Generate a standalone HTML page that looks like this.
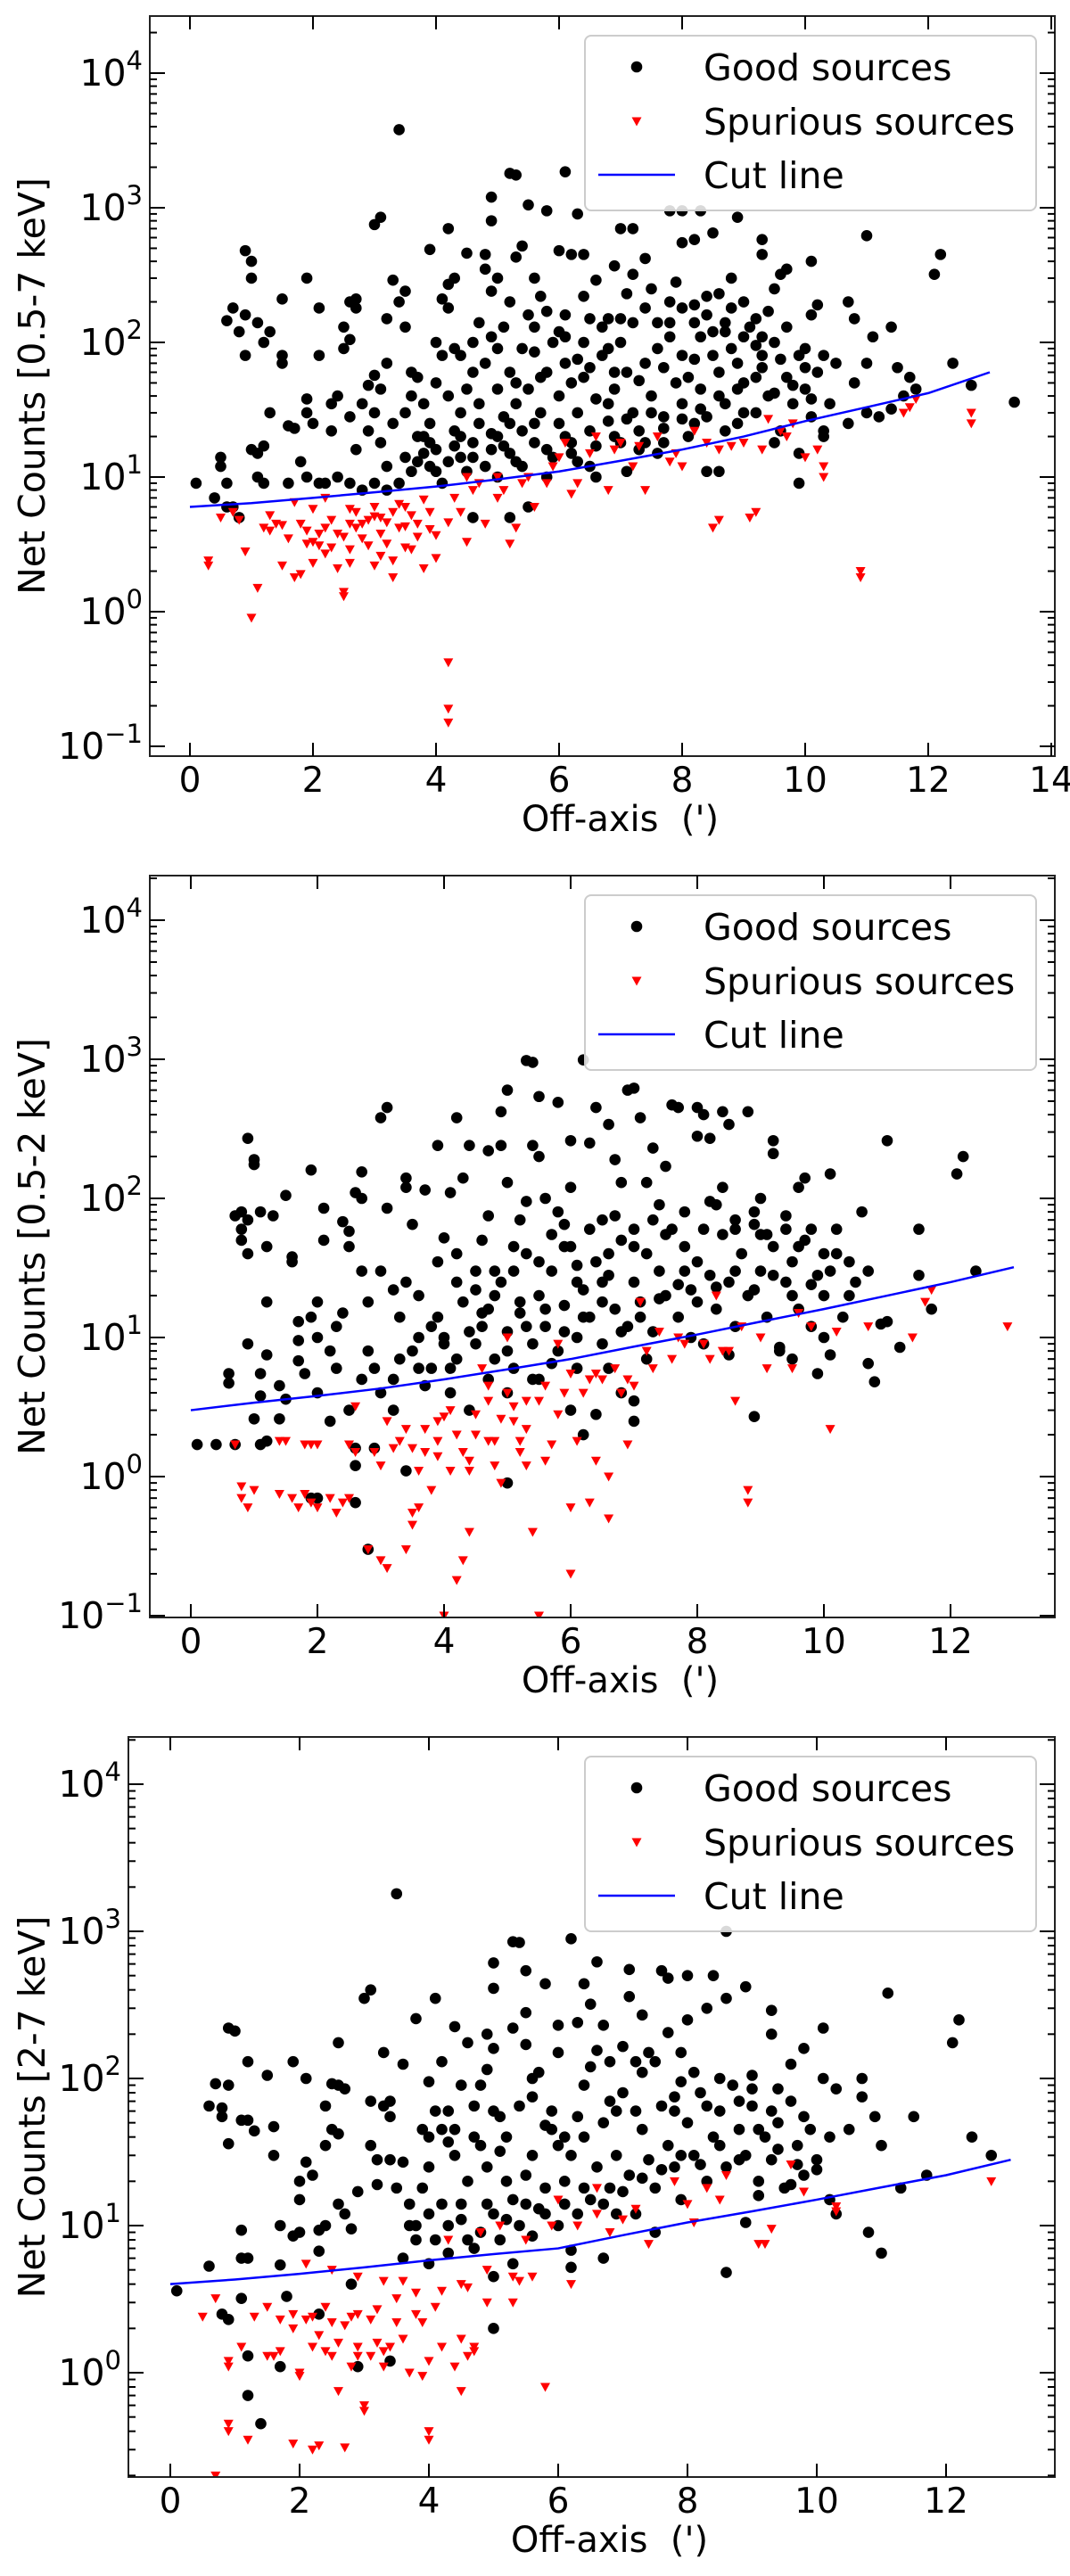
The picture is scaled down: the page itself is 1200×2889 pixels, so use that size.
<!DOCTYPE html>
<html><head><meta charset="utf-8"><style>
html,body{margin:0;padding:0;background:#fff;}
svg{display:block;font-family:"DejaVu Sans","Liberation Sans",sans-serif;}
</style></head><body>
<svg id="fig" width="1200" height="2889" viewBox="0 0 1200 2889" xmlns="http://www.w3.org/2000/svg"></svg>
<script>
// ---------- data ----------
const panelLabels = ["Net Counts [0.5-7 keV]", "Net Counts [0.5-2 keV]", "Net Counts [2-7 keV]"];
const yDecades = [-1,0,1,2,3,4];
const legendLabels = ["Good sources","Spurious sources","Cut line"];

const cutX = [0,1,2,3,4,5,6,7,8,9,10,11,12,13];
const cut1 = [6,6.4,7,7.7,8.5,9.6,11,13.2,16,20,26,33,42,60];
const cut2 = [3,3.4,3.8,4.3,5,5.9,7,8.6,10.5,13,16,20,25,32];
const cut3 = [4,4.3,4.7,5.2,5.8,6.4,7,8.6,10.5,12.5,15,18.2,22,28];

const good1 = [[3.4,3800],[5.2,1800],[5.3,1750],[6.1,1850],[4.9,1200],[5.5,1050],[5.8,950],[6.3,900],[3.0,750],[3.1,850],[4.2,700],[4.9,800],[7.0,700],[7.2,700],[7.8,950],[8.0,950],[8.3,950],[8.9,850],[8.5,650],[8.2,580],[8.0,550],[9.3,580],[9.3,450],[11.0,620],[12.1,320],[12.2,450],[12.4,70],[12.7,48],[13.4,36],[10.1,400],[9.6,320],[9.7,350],[11.1,110],
[0.1,9],[0.4,7],[0.5,12],[0.5,14],[0.6,9],[0.6,6],[0.7,6],[0.8,5],[0.6,145],[0.7,180],[0.8,120],[0.9,80],[0.9,160],[0.9,480],[1.0,400],[1.0,300],[1.1,140],[1.2,100],[1.3,120],[1.5,210],[1.5,80],[1.5,70],[1.0,16],[1.1,15],[1.1,10],[1.2,9],[1.2,17],[1.3,30],[1.6,9],[1.6,24],[1.7,23],[1.8,13],[1.9,30],[1.9,38],[2.0,25],[1.9,300],[2.1,180],[2.1,80],[2.3,22],[2.3,35],[2.4,40],[2.5,130],[2.5,90],[2.6,105],[2.6,200],[2.7,210],[2.7,180],[2.6,28],[2.7,16],[2.8,35],[2.9,22],[2.9,48],[3.0,57],[3.1,18],[3.1,45],[3.2,150],[3.2,70],[3.3,290],[3.4,200],[3.5,130],[3.5,240],[3.6,40],[3.7,20],[3.8,15],[3.9,25],[3.9,490],[4.0,100],[4.1,210],[4.2,180],[4.2,270],[4.3,90],[4.4,80],[4.5,460],[4.6,60],[4.7,140],[4.8,450],[4.8,350],[4.9,240],[5.0,90],[5.1,130],[5.2,200],[5.3,430],[5.4,520],[5.5,160],[5.6,130],[5.7,220],[5.8,170],[6.0,480],[6.1,110],[6.2,450],[6.4,450],[6.5,150],[6.6,290],[6.8,90],[6.9,370],[7.0,150],[7.2,320],[7.4,420],[7.5,250],[7.6,140],[7.8,200],[8.0,180],[8.2,140],[8.4,220],[8.6,230],[8.7,120],[9.0,200],[9.2,150],[9.3,80],[9.5,250],[9.7,130],[10.0,90],[10.1,160],[10.2,190],[10.3,80],[10.7,200],[10.8,150],[11.0,70],[11.4,130],[11.5,65],[11.7,55],[11.8,45],
[3.2,12],[3.4,9],[3.5,14],[3.6,11],[3.8,20],[3.9,12],[4.0,16],[4.1,9],[4.2,13],[4.3,22],[4.4,14],[4.4,30],[4.5,11],[4.6,18],[4.7,25],[4.8,12],[4.9,16],[5.0,20],[5.0,10],[5.1,28],[5.2,15],[5.3,35],[5.4,12],[5.4,22],[5.5,45],[5.6,18],[5.7,30],[5.8,60],[5.9,14],[6.0,25],[6.0,40],[6.1,70],[6.2,18],[6.3,30],[6.4,55],[6.5,22],[6.5,12],[6.6,38],[6.7,80],[6.8,26],[6.9,45],[7.0,18],[7.0,100],[7.1,60],[7.2,30],[7.3,22],[7.4,70],[7.5,40],[7.6,15],[7.7,28],[7.8,110],[7.9,50],[8.0,35],[8.1,20],[8.2,75],[8.3,45],[8.4,28],[8.5,120],[8.6,60],[8.7,35],[8.8,90],[8.9,25],[9.0,50],[9.1,130],[9.2,30],[9.3,65],[9.4,40],[9.5,100],[9.6,22],[9.7,55],[9.8,35],[9.9,80],[10.0,45],[10.1,28],[10.2,60],[10.3,20],[10.4,35],[10.5,70],[10.7,25],[10.8,50],[11.0,30],[11.2,28],[11.4,32],[11.6,40],[4.5,45],[4.8,70],[5.2,60],[5.6,85],[6.0,120],[6.4,100],[6.8,150],[7.2,140],[7.6,90],[8.0,80],[8.4,160],[8.8,180],[9.2,95],[3.0,30],[3.3,25],[3.6,60],[3.8,35],[4.0,50],[4.2,40],[2.2,9],[2.4,10],[2.6,9],[2.8,8],[3.0,9],[3.2,8],[1.9,10],[2.1,9],[5.5,6],[5.2,5],[4.6,5],[8.6,11],[8.4,11],[9.9,9],[9.9,15],[7.1,11],[6.6,10],[5.8,10],[6.2,15],[7.3,16],[7.7,18],[8.2,25],[9.5,18],[10.3,22],[6.3,75],[5.9,100],[7.9,280],[8.8,300],[4.3,300],[5.0,300],
[3.7,13],[4.0,11],[4.3,17],[4.6,14],[4.9,21],[5.1,17],[5.3,13],[5.6,25],[5.8,16],[6.1,20],[6.3,13],[6.6,17],[6.9,20],[7.1,27],[7.4,18],[7.7,23],[8.0,27],[8.3,32],[8.6,40],[8.9,45],[9.2,55],[9.5,42],[9.8,48],[10.1,38],[4.7,35],[5.0,45],[5.3,50],[5.7,55],[6.2,50],[6.5,65],[6.9,60],[7.3,52],[7.7,65],[8.1,55],[8.5,80],[8.9,70],[9.3,110],[9.6,75],[10.0,65],[4.9,110],[5.4,90],[6.1,160],[6.7,130],[7.4,180],[8.2,190],[8.7,140],[9.0,110],[9.4,170],[5.6,300],[6.4,220],[7.1,230],[7.8,140],[8.3,110],[4.6,100],[4.1,80],[3.7,55],[3.5,30],[3.9,18],[4.4,20],[5.2,25],[6.8,35],[7.5,30],[8.7,22],[9.0,30]];
const spur1 = [[0.3,2.4],[0.3,2.2],[0.5,5],[0.7,5.5],[0.8,4.8],[0.9,2.8],[1.0,0.9],[1.1,1.5],[1.2,4.2],[1.3,5.2],[1.4,4.5],[1.5,2.2],[1.6,3.5],[1.7,1.8],[1.8,4.5],[1.8,1.9],[1.9,3.2],[2.0,2.3],[2.0,5.8],[2.1,3.8],[2.2,4.2],[2.3,3],[2.4,2.1],[2.5,1.3],[2.5,1.4],[2.6,4.5],[2.6,2.3],[2.7,5.5],[2.8,3.5],[2.9,4.8],[3.0,2.2],[3.1,5],[3.2,3.2],[3.3,1.8],[3.3,2.4],[3.4,4.2],[3.5,3],[3.6,5.2],[3.7,4.5],[3.8,2.1],[3.9,5.5],[4.0,2.5],[4.2,0.42],[4.2,0.19],[4.2,0.15],[4.2,4.6],[4.3,7],[4.5,3.3],[4.6,8],[4.8,4.5],[5.0,7],[5.2,3.2],[5.3,4.2],[5.4,9],[5.6,6],[5.8,9],[6.0,14],[6.1,18],[6.2,7.5],[6.6,20],[6.8,8],[7.0,18],[7.4,8],[7.6,20],[8.0,12],[8.2,22],[8.5,4.2],[8.6,4.8],[8.6,16],[9.0,18],[9.1,5],[9.2,5.5],[9.3,16],[9.6,22],[10.0,14],[10.3,10],[10.3,12],[10.9,2],[10.9,1.8],[11.7,33],[11.8,38],[12.7,30],[12.7,25],[1.7,6.5],[2.2,7],[3.0,6],[3.5,6],[4.5,10],[5.0,10],[6.5,15],[7.2,12],[7.8,13],[8.4,18],[9.4,27],[9.8,25],[1.3,4],[2.8,4.5],[3.2,4.6],[2.0,3.3],[2.4,3.8],[1.5,4.4],
[1.9,4],[2.1,3.1],[2.3,4.8],[2.5,3.6],[2.7,4.2],[2.9,3.1],[3.1,3.8],[3.3,5.5],[3.5,4.3],[3.7,3.6],[3.9,4.1],[2.6,5.8],[3.0,5.1],[3.4,6.3],[3.8,6.8],[2.2,2.7],[2.6,2.9],[3.1,2.6],[3.6,2.9],[4.0,3.7],[4.4,5.5],[4.7,9],[5.1,8],[5.5,10],[5.9,12],[6.3,9],[6.9,16],[7.3,17],[7.9,15],[8.8,17],[9.7,20],[10.2,16],[11.6,30]];

const good2 = [[0.1,1.7],[0.4,1.7],[0.7,1.7],[1.1,1.7],[1.2,1.8],[0.6,5.5],[0.6,4.7],[0.7,75],[0.8,80],[0.8,60],[0.8,50],[0.9,40],[0.9,70],[0.9,270],[1.0,190],[1.0,175],[0.9,9],[1.0,2.6],[1.1,3.8],[1.1,80],[1.2,45],[1.2,7.5],[1.1,5.5],[1.3,75],[1.2,18],[1.4,4.5],[1.4,2.6],[1.5,105],[1.6,38],[1.6,35],[1.5,3.6],[1.7,6.8],[1.7,9.5],[1.7,13],[1.8,5.5],[1.9,14],[1.9,160],[2.0,18],[2.0,10],[2.1,85],[2.1,50],[2.2,8],[2.3,12],[2.3,6],[2.4,15],[2.4,68],[2.5,45],[2.5,58],[2.6,110],[2.7,30],[2.7,155],[2.7,100],[2.8,18],[2.8,8],[2.9,1.6],[2.9,6],[3.0,380],[3.0,30],[3.1,450],[3.1,85],[3.2,22],[3.2,5],[3.3,14],[3.4,140],[3.4,120],[3.5,65],[3.6,20],[3.6,6],[3.7,115],[3.8,12],[3.9,240],[4.0,52],[4.0,9],[4.1,110],[4.2,380],[4.2,40],[4.3,140],[4.4,240],[4.5,30],[4.6,15],[4.7,220],[4.7,75],[4.8,20],[4.9,240],[4.9,420],[5.0,600],[5.0,130],[5.1,30],[5.2,18],[5.3,95],[5.3,980],[5.4,950],[5.4,240],[5.5,200],[5.5,540],[5.6,100],[5.7,55],[5.8,490],[5.9,45],[6.0,120],[6.0,260],[6.1,25],[6.2,990],[6.3,250],[6.4,450],[6.5,70],[6.5,25],[6.6,340],[6.7,190],[6.8,130],[6.9,600],[7.0,620],[7.0,60],[7.1,380],[7.2,130],[7.3,230],[7.5,170],[7.6,470],[7.7,450],[7.8,80],[7.8,30],[8.0,450],[8.0,280],[8.1,400],[8.2,270],[8.3,90],[8.4,420],[8.5,340],[8.6,60],[8.8,420],[8.9,80],[9.0,55],[9.2,260],[9.2,210],[9.4,75],[9.6,120],[9.7,140],[9.8,60],[9.9,5.5],[10.0,10],[10.1,150],[10.2,60],[10.4,20],[10.6,80],[10.7,6.5],[10.8,4.8],[11.0,260],[10.9,12.5],[11.2,8.5],[11.5,60],[11.5,28],[11.7,16],[12.1,150],[12.2,200],[12.4,30],[8.9,2.7],[7.0,2.5],[6.2,2],[5.0,0.9],[3.4,1.1],[2.6,1.2],[2.8,0.3],[2.0,0.7],[2.6,0.65],[2.6,1.6],[1.9,0.7],
[3.5,8],[3.8,6],[4.0,10],[4.2,7],[4.3,18],[4.5,9],[4.6,12],[4.8,7],[4.9,25],[5.0,11],[5.1,6],[5.2,15],[5.3,40],[5.4,9],[5.5,20],[5.6,12],[5.7,30],[5.8,8],[5.9,17],[6.0,45],[6.1,10],[6.2,22],[6.3,14],[6.4,35],[6.5,9],[6.6,28],[6.7,16],[6.8,50],[6.9,12],[7.0,25],[7.1,18],[7.2,40],[7.3,11],[7.4,30],[7.5,20],[7.6,60],[7.7,14],[7.8,45],[7.9,22],[8.0,35],[8.1,9],[8.2,28],[8.3,16],[8.4,55],[8.5,25],[8.6,12],[8.7,40],[8.8,20],[8.9,65],[9.0,30],[9.1,14],[9.2,45],[9.3,8],[9.4,25],[9.5,35],[9.6,16],[9.7,50],[9.8,12],[9.9,28],[10.0,20],[10.2,40],[10.3,14],[10.5,25],[10.7,30],[11.0,13],[4.1,4],[4.4,3],[4.7,5],[5.0,4],[5.5,5],[6.0,3],[6.4,2.8],[6.8,4],[7.0,3.5],[3.2,3],[3.0,4],[2.2,2.5],[2.5,3],[6.3,60],[5.8,80],[7.4,90],[8.2,95],[9.0,100],[9.3,8.5],[9.5,7],[10.1,7.5],[8.5,7.5],[7.9,10],[6.6,6],[5.7,6.5],
[3.3,7],[3.6,10],[3.9,14],[4.1,6],[4.4,11],[4.7,16],[5.0,8],[5.3,12],[5.6,16],[5.9,11],[6.2,14],[6.5,18],[6.8,11],[7.1,14],[7.4,19],[7.7,24],[8.0,18],[8.3,23],[8.6,30],[8.9,22],[9.2,28],[9.5,20],[9.8,24],[10.1,30],[10.4,35],[4.5,22],[4.8,30],[5.1,45],[5.5,35],[6.1,33],[6.6,40],[7.0,45],[7.5,55],[8.1,60],[8.6,70],[9.1,55],[9.6,45],[10.0,40],[4.6,50],[5.2,70],[5.9,65],[6.7,75],[7.3,70],[8.4,120],[9.4,60],[3.9,35],[3.4,25],[4.2,25],[5.4,5],[6.1,6],[7.2,7],[2.7,5],[2.0,4],[3.7,4.5]];
const spur2 = [[0.7,1.7],[0.8,0.85],[0.8,0.7],[0.9,0.6],[1.0,0.8],[1.4,0.75],[1.4,1.8],[1.5,1.8],[1.6,0.7],[1.7,0.6],[1.8,0.75],[1.8,1.7],[1.9,0.65],[1.9,1.7],[2.0,1.7],[2.0,0.6],[2.2,0.7],[2.3,0.55],[2.4,0.65],[2.5,1.7],[2.5,0.7],[2.6,1.5],[2.6,3.2],[2.8,0.3],[3.0,0.25],[3.0,1.2],[3.1,0.22],[3.1,2.5],[3.3,1.8],[3.4,0.3],[3.5,0.55],[3.5,0.45],[3.5,1.6],[3.6,0.6],[3.7,2.2],[3.8,0.8],[3.9,1.4],[4.0,0.1],[4.0,2.7],[4.1,1.1],[4.2,0.18],[4.3,0.25],[4.4,0.4],[4.4,1.3],[4.5,2],[4.6,6],[4.7,3.5],[4.8,1.8],[4.9,0.9],[5.0,10],[5.0,4],[5.1,2.5],[5.2,1.8],[5.3,1.2],[5.4,0.4],[5.5,3.5],[5.5,0.1],[5.6,1.3],[5.8,9],[5.9,4],[6.0,0.6],[6.0,0.2],[6.1,1.8],[6.3,0.65],[6.5,5],[6.6,0.5],[6.6,1],[6.8,4],[6.9,1.7],[7.1,18],[7.3,6],[7.4,11],[7.6,7],[7.8,9],[8.2,7],[8.3,20],[8.4,8],[8.6,3.5],[8.7,12],[8.8,0.8],[8.8,0.65],[9.1,6],[9.5,6],[9.6,15],[10.1,2.2],[10.2,11],[10.7,12],[11.4,10],[11.6,18],[11.7,22],[12.9,12],[3.2,1.6],[3.9,1.8],[4.7,1.8],[5.3,3.5],[6.3,5],[7.0,4.5],[2.9,1.5],[3.6,1.1],[4.3,1.5],[4.1,3],
[3.4,2.2],[3.7,1.5],[3.9,2.5],[4.2,2],[4.5,2.8],[4.7,4.5],[4.9,2.6],[5.1,3.2],[5.3,2.2],[5.6,4.5],[5.8,2.8],[6.0,5.5],[6.2,4],[6.4,5.5],[6.7,6],[6.9,5],[7.2,8],[7.7,10],[8.1,9],[8.5,8],[9.0,10],[9.8,12],[4.4,1.1],[4.8,1.2],[5.2,1.5],[5.7,1.7],[6.4,1.3]];

const good3 = [[0.1,3.6],[0.6,5.3],[0.6,65],[0.7,92],[0.8,63],[0.8,55],[0.9,220],[1.0,210],[0.9,90],[0.9,36],[0.8,2.5],[0.9,2.3],[1.1,6],[1.1,52],[1.1,9.3],[1.2,130],[1.2,52],[1.3,44],[1.2,6],[1.1,3.2],[1.2,1.3],[1.2,0.7],[1.4,0.45],[1.5,105],[1.6,30],[1.6,47],[1.7,10],[1.7,5.4],[1.8,3.3],[1.7,1.1],[1.9,130],[1.9,8.5],[2.0,20],[2.0,15],[2.0,9],[2.1,100],[2.1,27],[2.2,22],[2.3,6.7],[2.3,9.3],[2.4,10],[2.4,35],[2.4,65],[2.5,92],[2.5,45],[2.6,90],[2.6,175],[2.6,42],[2.7,85],[2.6,14],[2.7,12],[2.8,9.5],[2.8,4],[2.9,17],[3.0,350],[3.1,400],[3.1,70],[3.1,35],[3.2,28],[3.2,19],[3.3,150],[3.3,65],[3.4,70],[3.4,55],[3.5,18],[3.5,1800],[3.6,125],[3.6,27],[3.7,10],[3.8,255],[3.8,8],[3.9,45],[4.0,95],[4.0,25],[4.1,60],[4.1,350],[4.2,130],[4.2,45],[4.3,37],[4.4,30],[4.4,225],[4.5,90],[4.5,14],[4.6,175],[4.7,65],[4.8,35],[4.9,200],[4.9,115],[5.0,160],[5.0,610],[5.0,410],[5.1,32],[5.2,20],[5.3,220],[5.3,850],[5.4,840],[5.5,540],[5.5,280],[5.5,170],[5.6,100],[5.8,440],[5.9,60],[6.0,230],[6.0,150],[6.1,40],[6.2,890],[6.3,240],[6.4,440],[6.5,320],[6.6,620],[6.6,155],[6.7,230],[6.8,130],[6.9,60],[7.0,165],[7.1,360],[7.1,550],[7.2,130],[7.3,270],[7.4,150],[7.6,540],[7.7,480],[7.7,205],[7.8,60],[7.9,150],[8.0,500],[8.0,250],[8.1,110],[8.3,300],[8.4,500],[8.6,1000],[8.6,350],[8.9,420],[9.0,105],[9.3,290],[9.3,200],[9.6,125],[9.8,160],[10.1,220],[10.1,100],[10.3,85],[10.7,100],[10.7,75],[10.9,55],[11.1,380],[11.0,35],[11.5,55],[11.7,22],[12.1,175],[12.2,250],[12.4,40],[12.7,30],[10.8,9],[11.0,6.5],[11.3,18],[10.3,12],[8.6,4.8],[6.2,5.2],[6.2,6.8],[6.7,6],[5.0,2],[5.0,4.5],[3.4,1.2],[2.9,1.1],[2.3,2.5],
[3.6,6],[3.8,10],[4.0,5.5],[4.1,8],[4.2,14],[4.3,6.5],[4.5,11],[4.6,20],[4.7,7],[4.8,9],[4.9,25],[5.0,12],[5.1,8],[5.2,40],[5.3,15],[5.4,10],[5.5,22],[5.6,30],[5.7,13],[5.8,18],[5.9,45],[6.0,10],[6.1,20],[6.2,30],[6.3,12],[6.4,40],[6.5,15],[6.6,25],[6.7,50],[6.8,18],[6.9,30],[7.0,80],[7.1,22],[7.2,12],[7.3,45],[7.4,28],[7.5,18],[7.6,65],[7.7,35],[7.8,25],[7.9,15],[8.0,50],[8.1,30],[8.2,80],[8.3,20],[8.4,40],[8.5,60],[8.6,25],[8.7,90],[8.8,45],[8.9,30],[9.0,65],[9.1,20],[9.2,40],[9.3,28],[9.4,50],[9.5,18],[9.6,70],[9.7,35],[9.8,22],[9.9,45],[10.0,28],[10.2,40],[10.5,45],[4.3,60],[5.0,60],[5.6,75],[6.4,90],[7.3,110],[6.0,35],[7.9,95],[9.4,85],[4.0,40],[3.4,28],[3.9,18],[5.3,5.5],[5.6,8.5],[6.9,12],[8.9,10.5],[9.1,16],[9.6,19],[10.2,15],[7.5,9],
[3.7,14],[4.0,12],[4.3,10],[4.6,8],[4.9,14],[5.2,11],[5.5,14],[5.8,12],[6.1,14],[6.4,18],[6.7,14],[7.0,17],[7.3,21],[7.6,24],[7.9,30],[8.2,26],[8.5,35],[8.8,28],[9.1,45],[9.4,33],[9.7,26],[10.0,24],[4.4,45],[4.7,40],[5.1,55],[5.4,65],[5.8,48],[6.3,55],[6.8,70],[7.2,60],[7.8,75],[8.3,65],[8.8,70],[9.3,60],[9.8,55],[4.8,90],[5.7,110],[6.5,120],[7.5,130],[8.5,100],[9.0,85]];
const spur3 = [[0.5,2.4],[0.7,3.2],[0.7,0.2],[0.9,1.2],[0.9,1.1],[0.9,0.45],[0.9,0.4],[1.1,1.5],[1.2,0.35],[1.3,2.4],[1.5,2.8],[1.5,1.3],[1.6,1.3],[1.7,1.4],[1.7,2.3],[1.9,0.33],[1.9,2],[2.0,1],[2.0,0.95],[2.1,5.5],[2.1,2.3],[2.2,1.5],[2.2,0.3],[2.3,0.32],[2.3,1.8],[2.4,2.8],[2.5,5],[2.5,1.3],[2.6,0.75],[2.7,2.1],[2.7,0.31],[2.8,1.1],[2.8,2.4],[2.9,1.3],[3.0,0.55],[3.0,0.6],[3.1,2.3],[3.1,1.3],[3.2,1.6],[3.3,4.2],[3.4,1.5],[3.5,2.2],[3.6,1.7],[3.7,1],[3.8,3.5],[3.9,0.95],[3.9,2.2],[4.0,0.4],[4.0,0.35],[4.0,1.2],[4.1,2.8],[4.2,1.5],[4.3,8],[4.4,1.1],[4.5,0.75],[4.5,1.7],[4.6,3.8],[4.7,1.4],[4.8,9],[4.9,5],[5.1,10],[5.3,3],[5.4,4.2],[5.5,8],[5.8,0.8],[6.0,15],[6.2,4],[6.3,10],[6.6,18],[6.8,9],[7.0,11],[7.2,13],[7.4,7.5],[7.8,20],[8.0,14],[8.1,10.5],[8.3,18],[8.6,22],[9.1,7.5],[9.2,7.5],[9.3,9.5],[9.6,26],[9.8,17],[10.3,12.5],[10.3,13.5],[12.7,20],[3.3,1.4],[2.6,1.6],[1.9,2.5],[5.9,10],[6.6,12],[8.5,15],
[2.2,2.4],[2.5,2.2],[2.9,2.5],[3.2,2.7],[3.5,3.2],[3.8,2.5],[4.2,3.6],[4.5,4],[4.9,3],[5.3,4.5],[5.6,4.5],[3.6,4.2],[2.9,4.5],[2.4,1.4],[2.9,1.5],[3.3,1.1],[4.6,1.3],[4.7,1.5]];

// ---------- layout ----------
const panels = [
 {L:168,R:1183,T:18,B:848,x0:213,px:69,y0:686,dec:151,good:good1,spur:spur1,cut:cut1,ymin:-1.07,xt:[0,2,4,6,8,10,12,14]},
 {L:168,R:1183,T:982,B:1814,x0:214,px:71,y0:1656,dec:156,good:good2,spur:spur2,cut:cut2,ymin:-1.0,xt:[0,2,4,6,8,10,12]},
 {L:144,R:1183,T:1948,B:2778,x0:191,px:72.5,y0:2661,dec:165,good:good3,spur:spur3,cut:cut3,ymin:-0.71,xt:[0,2,4,6,8,10,12]}
];
const NS="http://www.w3.org/2000/svg";
const svg=document.getElementById('fig');
function mk(tag,attrs,parent){const e=document.createElementNS(NS,tag);for(const k in attrs)e.setAttribute(k,attrs[k]);(parent||svg).appendChild(e);return e;}

panels.forEach((p,i)=>{
  const g=mk('g',{});
  
  
  const X=v=>p.x0+v*p.px;
  const Y=v=>p.y0-Math.log10(v)*p.dec;
  const cid='clip'+i;
  const cp=mk('clipPath',{id:cid},g);
  mk('rect',{x:p.L,y:p.T,width:p.R-p.L,height:p.B-p.T},cp);
  const pg=mk('g',{'clip-path':'url(#'+cid+')'},g);
  p.good.forEach(d=>{
    const c=mk('circle',{cx:X(d[0]),cy:Y(d[1]),r:6.3,fill:'#000'},pg);
    
    
  });
  p.spur.forEach(d=>{
    const cx=X(d[0]),cy=Y(d[1]);
    const t=mk('polygon',{points:`${cx-5.5},${cy-4.5} ${cx+5.5},${cy-4.5} ${cx},${cy+5.5}`,fill:'#ff0000'},pg);
    
    
  });
  const pts=cutX.map((x,k)=>X(x)+','+Y(p.cut[k])).join(' ');
  const ln=mk('polyline',{points:pts,fill:'none',stroke:'#0000ff','stroke-width':2.5,'stroke-linejoin':'round'},pg);
  
  
  const fr=mk('rect',{x:p.L,y:p.T,width:p.R-p.L,height:p.B-p.T,fill:'none',stroke:'#222','stroke-width':2},g);
  
  
  p.xt.forEach(v=>{
    const x=X(v);
    mk('line',{x1:x,y1:p.B,x2:x,y2:p.B-15,stroke:'#000','stroke-width':2},g);
    mk('line',{x1:x,y1:p.T,x2:x,y2:p.T+15,stroke:'#000','stroke-width':2},g);
    const t=mk('text',{x:x,y:p.B+40,'font-size':39,'text-anchor':'middle',fill:'#000'},g);
    t.textContent=v;
    
    
  });
  yDecades.forEach(k=>{
    for(let m=1;m<10;m++){
      const lv=k+Math.log10(m);
      if(lv<p.ymin-0.001) continue;
      const y=p.y0-lv*p.dec;
      if(y<p.T) continue;
      const len=m===1?17:8;
      mk('line',{x1:p.L,y1:y,x2:p.L+len,y2:y,stroke:'#000','stroke-width':2},g);
      mk('line',{x1:p.R,y1:y,x2:p.R-len,y2:y,stroke:'#000','stroke-width':2},g);
    }
    const y=p.y0-k*p.dec;
    if(k<p.ymin-0.01) return;
    const t=mk('text',{x:p.L-8,y:y+14,'font-size':41,'text-anchor':'end',fill:'#000'},g);
    
    
    const a=mk('tspan',{},t);a.textContent='10';
    const b=mk('tspan',{dy:-18,'font-size':29},t);b.textContent=(k<0?'\u2212'+(-k):k);
  });
  const xl=mk('text',{x:(p.L+p.R)/2+20,y:p.B+84,'font-size':40,'text-anchor':'middle',fill:'#000'},g);
  xl.textContent="Off-axis\u00a0\u00a0(')";
  
  
  const cy=(p.T+p.B)/2;
  const yl=mk('text',{x:0,y:0,'font-size':41,'text-anchor':'middle',fill:'#000',transform:`translate(50,${cy}) rotate(-90)`},g);
  yl.textContent=panelLabels[i];
  
  
  const lg=mk('g',{},g);
  
  
  const lt=p.T+22;
  mk('rect',{x:656,y:lt,width:506,height:196,rx:7,fill:'#fff','fill-opacity':0.85,stroke:'#cccccc','stroke-width':2},lg);
  const rows=[lt+35,lt+96,lt+156];
  mk('circle',{cx:714,cy:rows[0],r:6.3,fill:'#000'},lg);
  const c2=rows[1];
  mk('polygon',{points:`${714-5.5},${c2-4.5} ${714+5.5},${c2-4.5} 714,${c2+5.5}`,fill:'#ff0000'},lg);
  mk('line',{x1:671,y1:rows[2],x2:757,y2:rows[2],stroke:'#0000ff','stroke-width':2.5},lg);
  legendLabels.forEach((s,k)=>{
    const t=mk('text',{x:789,y:rows[k]+15,'font-size':41,fill:'#000'},lg);
    t.textContent=s;
    
    
  });
});
</script>
</body></html>
